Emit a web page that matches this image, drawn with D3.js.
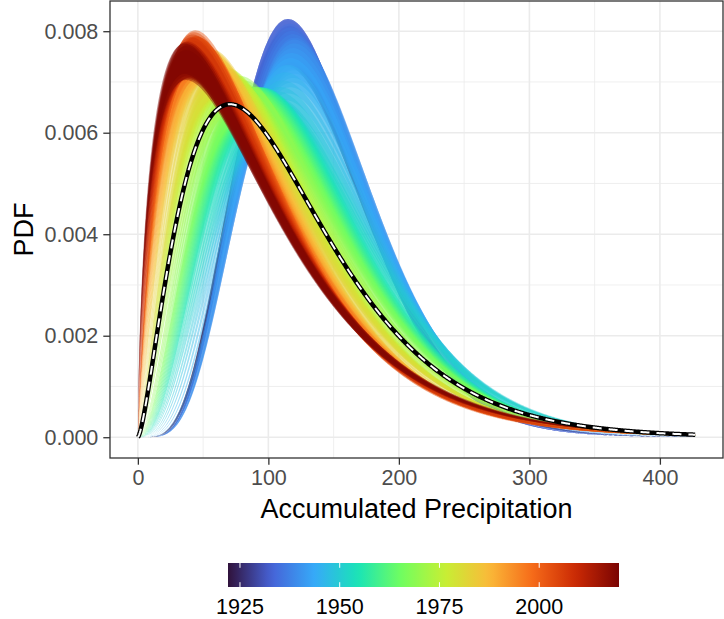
<!DOCTYPE html>
<html>
<head>
<meta charset="utf-8">
<script src="https://cdn.jsdelivr.net/npm/d3@7"></script>
<style>
body { margin: 0; background: #fff; }
text { font-family: "Liberation Sans", Arial, Helvetica, sans-serif; }
</style>
</head>
<body>
<script>
// - data -

// one fitted gamma distribution per year
var years = [
	      1922, 1923, 1924, 1925, 1926, 1927, 1928, 1929, 1930,
	1931, 1932, 1933, 1934, 1935, 1936, 1937, 1938, 1939, 1940,
	1941, 1942, 1943, 1944, 1945, 1946, 1947, 1948, 1949, 1950,
	1951, 1952, 1953, 1954, 1955, 1956, 1957, 1958, 1959, 1960,
	1961, 1962, 1963, 1964, 1965, 1966, 1967, 1968, 1969, 1970,
	1971, 1972, 1973, 1974, 1975, 1976, 1977, 1978, 1979, 1980,
	1981, 1982, 1983, 1984, 1985, 1986, 1987, 1988, 1989, 1990,
	1991, 1992, 1993, 1994, 1995, 1996, 1997, 1998, 1999, 2000,
	2001, 2002, 2003, 2004, 2005, 2006, 2007, 2008, 2009, 2010,
	2011, 2012, 2013, 2014, 2015, 2016, 2017, 2018, 2019, 2020
];

// precipitation at the peak (mode) of each year's PDF
var peakPrecip = [
	     114, 114, 114, 115, 115, 115, 115, 116, 116,
	115, 115, 115, 115, 116, 117, 118, 119, 120, 120,
	120, 119, 118, 117, 115, 113, 111, 109, 107, 105,
	103, 101,  99,  97,  96,  95,  94,  93,  92,  91,
	 90,  89,  88,  87,  86,  85,  84,  82,  80,  78,
	 76,  74,  72,  70,  68,  67,  66,  65,  64,  63,
	 62,  60,  58,  56,  55,  54,  53,  52,  51,  50,
	 49,  48,  48,  47,  47,  46,  46,  45,  45,  45,
	 45,  44,  44,  43,  43,  42,  42,  41,  41,  40,
	 40,  39,  39,  38,  38,  38,  37,  37,  37,  36
];

// gamma shape parameter of each year
var shapeK = [
	      5.9,  5.9,  6.0,  6.0,  6.0,  6.1,  6.1,  6.2,  6.3,
	6.38, 6.38, 6.38, 6.35, 6.35, 6.35, 6.35, 6.35, 6.35, 6.3,
	6.2,  6.0,  5.8,  5.6,  5.3,  5.0,  4.7,  4.45, 4.25, 4.05,
	3.95, 3.85, 3.8,  3.75, 3.7,  3.65, 3.6,  3.55, 3.5,  3.45,
	3.4,  3.35, 3.3,  3.25, 3.2,  3.15, 3.1,  3.05, 3.0,  2.95,
	2.8,  2.74, 2.68, 2.63, 2.58, 2.54, 2.5,  2.46, 2.42, 2.38,
	2.34, 2.3,  2.26, 2.22, 2.18, 2.14, 2.1,  2.06, 2.03, 2.0,
	1.98, 1.96, 1.94, 1.92, 1.9,  1.89, 1.88, 1.88, 1.88, 1.88,
	1.88, 1.87, 1.85, 1.83, 1.81, 1.79, 1.77, 1.75, 1.72, 1.7,
	1.69, 1.67, 1.66, 1.65, 1.64, 1.63, 1.62, 1.61, 1.6,  1.59
];

// stationary fit (dashed line)
var overallShape = 2.5;
var overallScale = 47;

var precipMax = 427;
var pdfMax = 0.008186;
var bandHalfWidth = 0.04;

var xTicks = [0, 100, 200, 300, 400];
var xMinor = [50, 150, 250, 350];
var yTicks = [0, 0.002, 0.004, 0.006, 0.008];
var yMinor = [0.001, 0.003, 0.005, 0.007];
var legendTicks = [1925, 1950, 1975, 2000];

var turboStops = ['#30123B', '#4662D7', '#36AAF9', '#1AE4B6', '#72FE5E',
	'#C7EF34', '#FABA39', '#F66B19', '#CB2A04', '#7A0403'];

// - setup -

var width = 724;
var height = 619;

var panel = { left: 110, right: 723, top: 1, bottom: 458 };

var svg = d3.select('body').append('svg')
	.attr('width', width)
	.attr('height', height);

var x = d3.scaleLinear()
	.domain([-0.05 * precipMax, 1.05 * precipMax])
	.range([panel.left, panel.right]);

var y = d3.scaleLinear()
	.domain([-0.05 * pdfMax, 1.05 * pdfMax])
	.range([panel.bottom, panel.top]);

var yearMin = d3.min(years), yearMax = d3.max(years);

var color = d3.scaleLinear()
	.domain(turboStops.map((c, i) => yearMin + i * (yearMax - yearMin) / (turboStops.length - 1)))
	.range(turboStops)
	.interpolate(d3.interpolateRgb);

// - helpers -

function logGamma(z) {
	var g = 7;
	var c = [0.99999999999980993, 676.5203681218851, -1259.1392167224028,
		771.32342877765313, -176.61502916214059, 12.507343278686905,
		-0.13857109526572012, 9.9843695780195716e-6, 1.5056327351493116e-7];
	z -= 1;
	var a = c[0];
	var t = z + g + 0.5;
	for (var i = 1; i < g + 2; i++) a += c[i] / (z + i);
	return 0.5 * Math.log(2 * Math.PI) + (z + 0.5) * Math.log(t) - t + Math.log(a);
}

function gammaPdf(v, k, theta) {
	if (v <= 0) return 0;
	return Math.exp((k - 1) * Math.log(v) - v / theta - logGamma(k) - k * Math.log(theta));
}

var grid = d3.range(0, precipMax + 0.01, 0.5);

// - panel -

svg.append('rect')
	.attr('x', panel.left).attr('y', panel.top)
	.attr('width', panel.right - panel.left)
	.attr('height', panel.bottom - panel.top)
	.attr('fill', '#fff');

var gGrid = svg.append('g');

gGrid.selectAll('.minor-x').data(xMinor).enter().append('line')
	.attr('x1', d => x(d)).attr('x2', d => x(d))
	.attr('y1', panel.top).attr('y2', panel.bottom)
	.attr('stroke', '#EBEBEB').attr('stroke-width', 0.8);

gGrid.selectAll('.minor-y').data(yMinor).enter().append('line')
	.attr('y1', d => y(d)).attr('y2', d => y(d))
	.attr('x1', panel.left).attr('x2', panel.right)
	.attr('stroke', '#EBEBEB').attr('stroke-width', 0.8);

gGrid.selectAll('.major-x').data(xTicks).enter().append('line')
	.attr('x1', d => x(d)).attr('x2', d => x(d))
	.attr('y1', panel.top).attr('y2', panel.bottom)
	.attr('stroke', '#EBEBEB').attr('stroke-width', 1.6);

gGrid.selectAll('.major-y').data(yTicks).enter().append('line')
	.attr('y1', d => y(d)).attr('y2', d => y(d))
	.attr('x1', panel.left).attr('x2', panel.right)
	.attr('stroke', '#EBEBEB').attr('stroke-width', 1.6);

// - ribbons -

var area = d3.area()
	.x(d => x(d.v))
	.y0(d => y(d.lo))
	.y1(d => y(d.hi));

var ribbons = years.map(function(yr, i) {
	var k = shapeK[i];
	var theta = peakPrecip[i] / (k - 1);
	return {
		year: yr,
		points: grid.map(function(v) {
			var f = gammaPdf(v, k, theta);
			return { v: v, lo: f * (1 - bandHalfWidth), hi: f * (1 + bandHalfWidth) };
		})
	};
});

svg.append('g').selectAll('path').data(ribbons).enter().append('path')
	.attr('d', d => area(d.points))
	.attr('fill', d => color(d.year))
	.attr('fill-opacity', 0.45);

// - stationary fit -

var line = d3.line()
	.x(d => x(d.v))
	.y(d => y(d.f));

var overall = grid.map(v => ({ v: v, f: gammaPdf(v, overallShape, overallScale) }));

svg.append('path')
	.attr('d', line(overall))
	.attr('fill', 'none')
	.attr('stroke', '#000')
	.attr('stroke-width', 4.5);

svg.append('path')
	.attr('d', line(overall))
	.attr('fill', 'none')
	.attr('stroke', '#fff')
	.attr('stroke-width', 2)
	.attr('stroke-dasharray', '9,7');

// - border & axes -

svg.append('rect')
	.attr('x', panel.left).attr('y', panel.top)
	.attr('width', panel.right - panel.left)
	.attr('height', panel.bottom - panel.top)
	.attr('fill', 'none')
	.attr('stroke', '#333')
	.attr('stroke-width', 1.3);

var xAxis = svg.append('g')
	.attr('transform', 'translate(0,' + panel.bottom + ')')
	.call(d3.axisBottom(x).tickValues(xTicks).tickSize(6.7).tickPadding(5).tickFormat(d3.format('d')));

var yAxis = svg.append('g')
	.attr('transform', 'translate(' + panel.left + ',0)')
	.call(d3.axisLeft(y).tickValues(yTicks).tickSize(6.7).tickPadding(5).tickFormat(d3.format('.3f')));

[xAxis, yAxis].forEach(function(a) {
	a.select('.domain').remove();
	a.selectAll('.tick line').attr('stroke', '#333').attr('stroke-width', 1.3);
	a.selectAll('.tick text')
		.attr('fill', '#4D4D4D')
		.style('font-size', '21.5px')
		.style('font-family', '"Liberation Sans", Arial, Helvetica, sans-serif');
});

svg.append('text')
	.attr('x', (panel.left + panel.right) / 2)
	.attr('y', 518)
	.attr('text-anchor', 'middle')
	.style('font-size', '27px')
	.text('Accumulated Precipitation');

svg.append('text')
	.attr('transform', 'translate(33,' + (panel.top + panel.bottom) / 2 + ') rotate(-90)')
	.attr('text-anchor', 'middle')
	.style('font-size', '27px')
	.text('PDF');

// - legend -

var legend = { left: 228, right: 619, top: 563, bottom: 587 };

var lx = d3.scaleLinear()
	.domain([yearMin, yearMax])
	.range([legend.left, legend.right]);

var grad = svg.append('defs').append('linearGradient')
	.attr('id', 'turbo-grad')
	.attr('x1', '0%').attr('x2', '100%').attr('y1', '0%').attr('y2', '0%');

grad.selectAll('stop').data(d3.range(0, 1.0001, 0.02)).enter().append('stop')
	.attr('offset', d => (d * 100) + '%')
	.attr('stop-color', d => color(yearMin + d * (yearMax - yearMin)));

svg.append('rect')
	.attr('x', legend.left).attr('y', legend.top)
	.attr('width', legend.right - legend.left)
	.attr('height', legend.bottom - legend.top)
	.attr('fill', 'url(#turbo-grad)');

var tickLen = (legend.bottom - legend.top) / 5;
var gLeg = svg.append('g');

gLeg.selectAll('.lt-top').data(legendTicks).enter().append('line')
	.attr('x1', d => lx(d)).attr('x2', d => lx(d))
	.attr('y1', legend.top).attr('y2', legend.top + tickLen)
	.attr('stroke', '#fff').attr('stroke-width', 1);

gLeg.selectAll('.lt-bot').data(legendTicks).enter().append('line')
	.attr('x1', d => lx(d)).attr('x2', d => lx(d))
	.attr('y1', legend.bottom - tickLen).attr('y2', legend.bottom)
	.attr('stroke', '#fff').attr('stroke-width', 1);

gLeg.selectAll('text').data(legendTicks).enter().append('text')
	.attr('x', d => lx(d))
	.attr('y', 614)
	.attr('text-anchor', 'middle')
	.style('font-size', '21.5px')
	.attr('fill', '#000')
	.text(d => d);
</script>
</body>
</html>
